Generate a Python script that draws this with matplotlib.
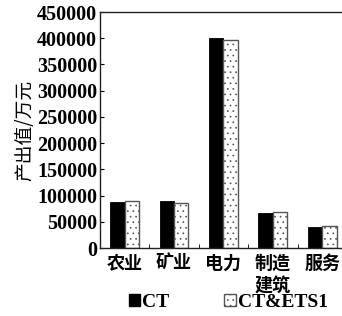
import matplotlib
matplotlib.use("Agg")
import matplotlib.pyplot as plt
import numpy as np
from matplotlib.patches import Patch

categories = ["农业", "矿业", "电力", "制造\n建筑", "服务"]
ct = [87000, 89000, 401000, 67000, 41000]
ets1 = [89000, 86000, 396000, 68000, 42000]
yticks = [0, 50000, 100000, 150000, 200000, 250000, 300000, 350000, 400000, 450000]

plt.rcParams['hatch.linewidth'] = 0.5
plt.rcParams['hatch.color'] = '#999999'

fig = plt.figure(figsize=(3.42, 3.16), dpi=100)
ax = fig.add_axes([0.292, 0.215, 0.708, 0.747])

x = np.arange(len(categories))
w = 0.29
b1 = ax.bar(x - w/2, ct, w, color='black', edgecolor='black', linewidth=0.6)
b2 = ax.bar(x + w/2, ets1, w, color='white', edgecolor='#555555', hatch='...', linewidth=1.0)

ax.set_xlim(-0.5, 4.4)
ax.set_ylim(0, 450000)
ax.set_yticks(yticks)
num_font = dict(family=['Liberation Serif', 'DejaVu Serif'], weight='bold', size=14.5)
ax.set_yticklabels([str(v) for v in yticks], fontdict=num_font)
ax.set_xticks(x)
ax.set_xticklabels(categories, family=['Noto Sans CJK SC'], size=13, weight='bold',
                   linespacing=1.25)
ax.tick_params(axis='x', length=0, pad=4)
ax.set_xticks(x[:-1] + 0.5, minor=True)
ax.tick_params(axis='x', which='minor', direction='in', length=3)
ax.tick_params(axis='y', direction='in', length=3, pad=2)
ax.spines['right'].set_visible(False)
for s in ['left', 'bottom', 'top']:
    ax.spines[s].set_linewidth(1.0)
    ax.spines[s].set_color('#222222')

ax.set_ylabel("产出值/万元", family=['Noto Sans CJK SC'], size=13.5, labelpad=1)

handles = [Patch(facecolor='black', edgecolor='black'),
           Patch(facecolor='white', edgecolor='#555555', hatch='...')]
leg = fig.legend(handles, ["CT", "CT&ETS1"], loc='lower center', ncol=2,
                 bbox_to_anchor=(0.667, -0.04), frameon=False,
                 prop=dict(family=['Liberation Serif'], weight='bold', size=14),
                 handlelength=0.6, handleheight=0.6, handletextpad=0.1, columnspacing=2.8)

fig.savefig("out.png", dpi=100)
